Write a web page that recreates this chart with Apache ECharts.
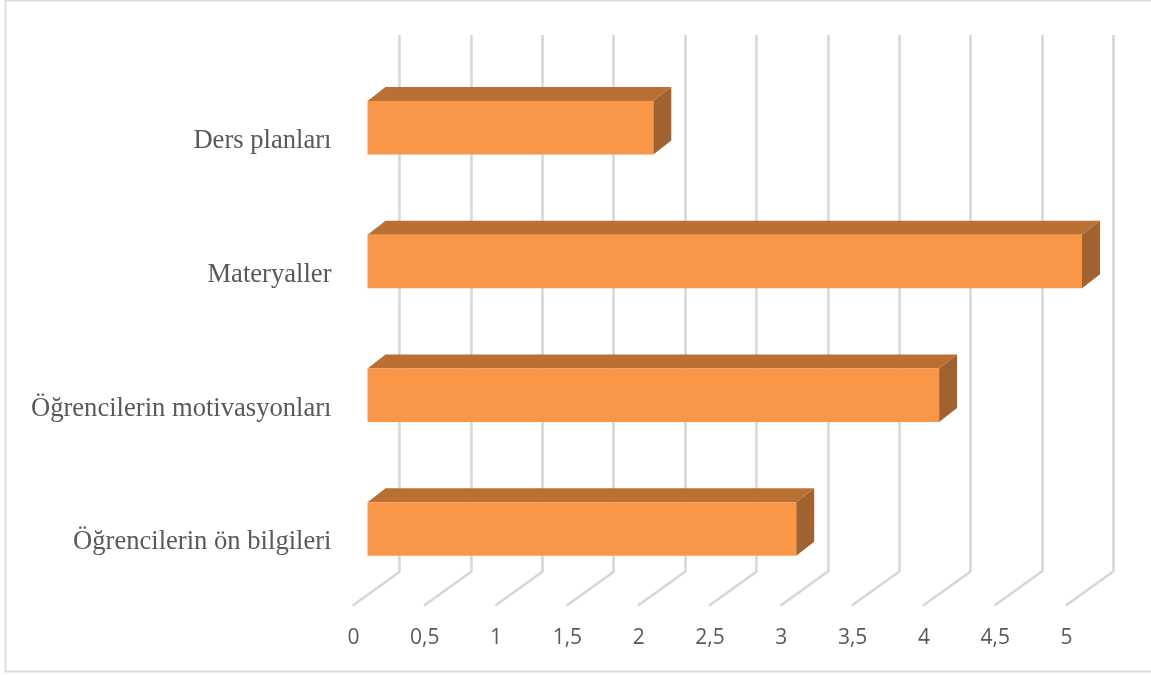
<!DOCTYPE html>
<html><head><meta charset="utf-8">
<style>html,body{margin:0;padding:0;background:#fff}#c{width:1151px;height:675px}</style>
<script src="https://cdn.jsdelivr.net/npm/echarts@6/dist/echarts.min.js"></script>
</head><body><div id="c"></div>
<script>
const categories = ['Öğrencilerin ön bilgileri','Öğrencilerin motivasyonları','Materyaller','Ders planları'];
const values = [3,4,5,2];
const tickValues = [0,0.5,1,1.5,2,2.5,3,3.5,4,4.5,5];
const tickLabels = ['0','0,5','1','1,5','2','2,5','3','3,5','4','4,5','5'];

const chart = echarts.init(document.getElementById('c'),null,{renderer:'canvas'});
const DX=18, DY=14, FLOOR_DX=46;
const FRONT='#FA9648', TOP='#BA7033', SIDE='#9F6230', GRID='#D6D6D6';

chart.setOption({
  animation:false,
  backgroundColor:'#fff',
  graphic:[{type:'rect',silent:true,z:-1,shape:{x:5.5,y:0.5,width:1170,height:671},style:{fill:'#fff',stroke:'#DDDDDD',lineWidth:2}}],
  grid:[
    {left:367.5,width:714.5,top:61,height:534.8},
    {left:399.5,width:714,top:35,height:537},
    {left:353.5,width:713,top:572,height:33}
  ],
  xAxis:[
    {gridIndex:0,type:'value',min:0,max:5,interval:0.5,show:false},
    {gridIndex:1,type:'value',min:0,max:5,interval:0.5,axisLine:{show:false},axisTick:{show:false},axisLabel:{show:false},
      splitLine:{show:true,lineStyle:{color:GRID,width:2.5}}},
    {gridIndex:2,type:'value',min:0,max:5,interval:0.5,axisLine:{show:false},axisTick:{show:false},splitLine:{show:false},
      axisLabel:{margin:23,color:'#595959',fontSize:21,fontFamily:'Open Sans',hideOverlap:false,showMinLabel:true,showMaxLabel:true,
        formatter:v=>tickLabels[tickValues.indexOf(v)]}}
  ],
  yAxis:[
    {gridIndex:0,type:'category',data:categories,axisLine:{show:false},axisTick:{show:false},splitLine:{show:false},
      axisLabel:{margin:36,color:'#595959',fontSize:26.6,fontFamily:'Liberation Serif',interval:0,verticalAlign:'top'}},
    {gridIndex:1,type:'value',show:false,min:0,max:1,splitLine:{show:false}},
    {gridIndex:2,type:'value',show:false,min:0,max:1,splitLine:{show:false}}
  ],
  series:[
    {type:'custom',xAxisIndex:2,yAxisIndex:2,z:1,silent:true,clip:false,data:tickValues.map(v=>[v]),
      encode:{x:0},
      renderItem(p,api){
        const a=api.coord([api.value(0),0]), b=api.coord([api.value(0),1]);
        return {type:'line',shape:{x1:a[0],y1:a[1],x2:b[0]+FLOOR_DX,y2:b[1]},style:{stroke:GRID,lineWidth:2.5,lineCap:'round'}};
      }},
    {type:'custom',xAxisIndex:0,yAxisIndex:0,z:3,silent:true,clip:false,
      data:values.map((v,i)=>[v,i]),encode:{x:0,y:1},
      renderItem(p,api){
        const v=api.value(0), c=api.value(1);
        const h=api.size([0,1])[1]*0.4;
        const s=api.coord([0,c]), e=api.coord([v,c]);
        const x0=s[0], x1=e[0], y0=s[1]-h/2, y1=s[1]+h/2;
        return {type:'group',children:[
          {type:'polygon',shape:{points:[[x0,y0],[x0+DX,y0-DY],[x1+DX,y0-DY],[x1,y0]]},style:{fill:TOP}},
          {type:'polygon',shape:{points:[[x1,y0],[x1+DX,y0-DY],[x1+DX,y1-DY],[x1,y1]]},style:{fill:SIDE}},
          {type:'rect',shape:{x:x0,y:y0,width:x1-x0,height:y1-y0},style:{fill:FRONT}}
        ]};
      }}
  ]
});
</script></body></html>
